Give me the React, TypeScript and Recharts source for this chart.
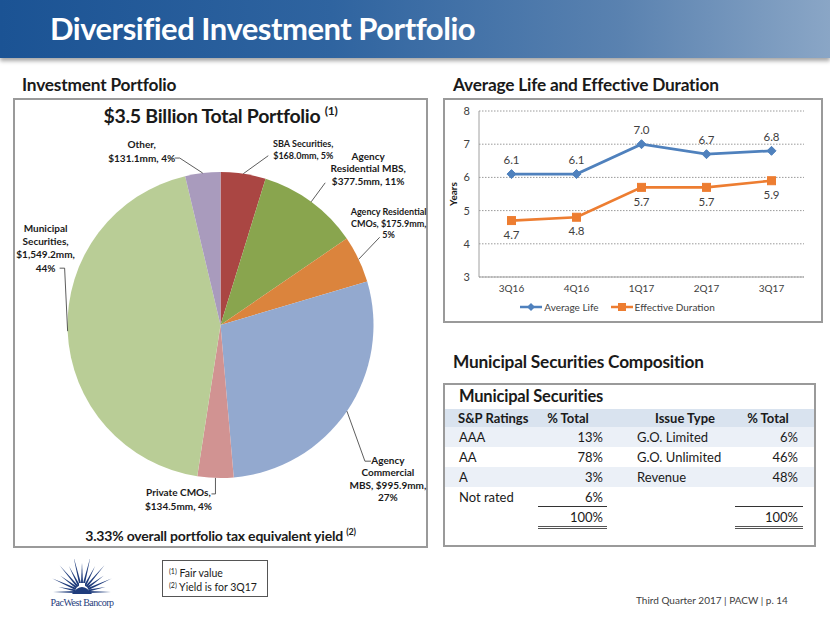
import { PieChart, Pie, Cell, LineChart, Line, XAxis, YAxis, CartesianGrid, LabelList, Legend } from 'recharts'

const FONT = 'Lato, "Open Sans", sans-serif'
const INK = '#1a1a1a'
const GREY_TEXT = '#404040'

// pie: investment portfolio, $mm, clockwise from 12 o'clock
const SEGMENTS = ['SBA Securities', 'Agency Residential MBS', 'Agency Residential CMOs', 'Agency Commercial MBS', 'Private CMOs', 'Municipal Securities', 'Other']
const AMOUNTS = [168.0, 377.5, 175.9, 995.9, 134.5, 1549.2, 131.1]
const SLICE_COLORS = ['#AA4643', '#89A54E', '#DB843D', '#93A9CF', '#D19392', '#B9CD96', '#A99BBD']
const SLICE_LABELS = [
  ['SBA Securities,', '$168.0mm, 5%'],
  ['Agency', 'Residential MBS,', '$377.5mm, 11%'],
  ['Agency Residential', 'CMOs, $175.9mm,', '5%'],
  ['Agency', 'Commercial', 'MBS, $995.9mm,', '27%'],
  ['Private CMOs,', '$134.5mm, 4%'],
  ['Municipal', 'Securities,', '$1,549.2mm,', '44%'],
  ['Other,', '$131.1mm, 4%'],
]

// line chart
const QUARTERS = ['3Q16', '4Q16', '1Q17', '2Q17', '3Q17']
const AVG_LIFE = [6.1, 6.1, 7.0, 6.7, 6.8]
const EFF_DURATION = [4.7, 4.8, 5.7, 5.7, 5.9]
const YEAR_TICKS = [3, 4, 5, 6, 7, 8]

// municipal table
const RATINGS = ['AAA', 'AA', 'A', 'Not rated']
const RATING_PCT = [13, 78, 3, 6]
const ISSUE_TYPES = ['G.O. Limited', 'G.O. Unlimited', 'Revenue']
const ISSUE_PCT = [6, 46, 48]

const BLUE = '#4F81BD'
const ORANGE = '#ED7D31'
const NAVY = '#1F3C7C'

const pieData = SEGMENTS.map((name, i) => ({ name, value: AMOUNTS[i] }))
const lineData = QUARTERS.map((q, i) => ({ q, avg: AVG_LIFE[i], dur: EFF_DURATION[i] }))

const RAD = Math.PI / 180

// leader line / text placement, relative to the point where the slice's mid angle meets the rim
const LABEL_LAYOUT = [
  { elbow: [25, -18], tail: 0, text: [60, -27], fs: 9, lh: 12 },
  { elbow: [14, -19], tail: 0, text: [57, -42], fs: 10, lh: 12.5 },
  { elbow: [21, -22], tail: 0, text: [30, -44], fs: 9, lh: 11.5 },
  { elbow: [18, 50], tail: 6, text: [41, 53], fs: 10, lh: 12.3 },
  { elbow: [0, 16], tail: -4, text: [-37, 18.5], fs: 10, lh: 14 },
  { elbow: [-3, -63], tail: -5, text: [-22, -99.5], fs: 10, lh: 13.3 },
  { elbow: [-23, -15], tail: -5, text: [-61, -25.5], fs: 10, lh: 14 },
]

function SliceLabel(props: any) {
  const { cx, cy, midAngle, outerRadius, index } = props
  const ex = cx + outerRadius * Math.cos(-midAngle * RAD)
  const ey = cy + outerRadius * Math.sin(-midAngle * RAD)
  const l = LABEL_LAYOUT[index]
  const bx = ex + l.elbow[0]
  const by = ey + l.elbow[1]
  const pts = [[ex, ey], [bx, by]]
  if (l.tail) pts.push([bx + l.tail, by])
  const tx = ex + l.text[0]
  return (
    <g>
      <polyline points={pts.map(p => p.join(',')).join(' ')} fill="none" stroke="#333" strokeWidth={0.8} />
      <text x={tx} y={ey + l.text[1]} textAnchor="middle" fontSize={l.fs} fontWeight={700} fill={INK} fontFamily={FONT}>
        {SLICE_LABELS[index].map((s, i) => (
          <tspan key={i} x={tx} dy={i === 0 ? 0 : l.lh}>{s}</tspan>
        ))}
      </text>
    </g>
  )
}

function YearsLabel(props: any) {
  const { viewBox } = props
  const x = viewBox.x + 10
  const y = viewBox.y + viewBox.height / 2
  return (
    <text x={x} y={y} transform={`rotate(-90 ${x} ${y})`} textAnchor="middle" dominantBaseline="central" fontSize={10} fontWeight={700} fill={INK} fontFamily={FONT}>
      Years
    </text>
  )
}

function Diamond(props: any) {
  const { cx, cy } = props
  if (cx == null || cy == null) return null
  const s = 4.5
  return <path d={`M${cx},${cy - s}L${cx + s},${cy}L${cx},${cy + s}L${cx - s},${cy}Z`} fill={BLUE} stroke={BLUE} />
}

function Square(props: any) {
  const { cx, cy } = props
  if (cx == null || cy == null) return null
  const s = 4
  return <rect x={cx - s} y={cy - s} width={s * 2} height={s * 2} fill={ORANGE} stroke={ORANGE} />
}

function LegendRow() {
  const item = (label: string, color: string, marker: 'diamond' | 'square') => (
    <span style={{ display: 'inline-flex', alignItems: 'center', marginRight: 12 }}>
      <svg width={22} height={10}>
        <line x1={0} y1={5} x2={22} y2={5} stroke={color} strokeWidth={2.5} />
        {marker === 'diamond'
          ? <path d="M11,1L15,5L11,9L7,5Z" fill={color} />
          : <rect x={7} y={1} width={8} height={8} fill={color} />}
      </svg>
      <span style={{ marginLeft: 2 }}>{label}</span>
    </span>
  )
  return (
    <div style={{ display: 'flex', justifyContent: 'center', fontSize: 10, color: GREY_TEXT, fontFamily: FONT, paddingTop: 4 }}>
      {item('Average Life', BLUE, 'diamond')}
      {item('Effective Duration', ORANGE, 'square')}
    </div>
  )
}

function Logo() {
  const rays = []
  const n = 15
  const cx = 30
  const cy = 33
  for (let i = 0; i < n; i++) {
    const deg = 180 + (i * 180) / (n - 1)
    const a = deg * RAD
    const up = Math.abs(Math.sin(a))
    const len = (i % 2 === 0 ? 22 : 15) + 9 * up
    const w = 9 * RAD
    const r0 = 7
    const x1 = cx + Math.cos(a - w) * r0
    const y1 = cy + Math.sin(a - w) * r0
    const x2 = cx + Math.cos(a + w) * r0
    const y2 = cy + Math.sin(a + w) * r0
    const tx = cx + Math.cos(a) * (r0 + len)
    const ty = cy + Math.sin(a) * (r0 + len) * 0.95
    rays.push(<path key={i} d={`M${x1},${y1}L${tx},${ty}L${x2},${y2}Z`} fill={NAVY} />)
  }
  return (
    <div style={{ position: 'absolute', left: 50, top: 559, width: 64, textAlign: 'center' }}>
      <svg width={64} height={37} style={{ display: 'block', margin: '0 auto' }} viewBox="-2 0 64 37">
        {rays}
        <path d={`M${cx - 10},${cy + 2} Q${cx},${cy - 12} ${cx + 10},${cy + 2} Z`} fill={NAVY} />
        <rect x={cx - 3} y={cy - 9} width={6} height={3} fill="#fff" />
      </svg>
      <div style={{ fontFamily: '"Liberation Serif", serif', fontSize: 10, color: NAVY, marginTop: 1, whiteSpace: 'nowrap', letterSpacing: -0.5 }}>PacWest Bancorp</div>
    </div>
  )
}

const abs = (left: number, top: number, extra: any = {}) => ({ position: 'absolute' as const, left, top, ...extra })

const HEADING = { fontSize: 17.3, fontWeight: 700, letterSpacing: -0.2, whiteSpace: 'nowrap' }

export default function App() {
  const rowY = [427, 447, 467, 487]
  return (
    <div style={{ position: 'absolute', left: 0, top: 0, width: 830, height: 623, background: '#fff', overflow: 'hidden', fontFamily: FONT, color: INK }}>
      {/* title bar */}
      <div style={abs(0, 0, { width: 830, height: 58, background: 'linear-gradient(90deg, #1B5394 0%, #2F64A0 40%, #5A82B0 75%, #8AA6C6 100%)', boxShadow: '0 3px 4px rgba(0,0,0,0.35)' })} />
      <div style={abs(50, 9, { color: '#fff', fontSize: 31, fontWeight: 700, letterSpacing: -0.5, whiteSpace: 'nowrap' })}>Diversified Investment Portfolio</div>

      {/* section headings */}
      <div style={abs(22, 74, HEADING)}>Investment Portfolio</div>
      <div style={abs(453, 74, HEADING)}>Average Life and Effective Duration</div>
      <div style={abs(453, 351, HEADING)}>Municipal Securities Composition</div>

      {/* pie panel */}
      <div style={abs(13, 98, { width: 411, height: 446, border: '2px solid #9a9a9a' })} />
      <div style={abs(13, 103, { width: 415, textAlign: 'center', fontSize: 19.5, fontWeight: 700, letterSpacing: -0.3, whiteSpace: 'nowrap' })}>
        $3.5 Billion Total Portfolio <sup style={{ fontSize: 12 }}>(1)</sup>
      </div>
      <div style={abs(13, 98)}>
        <PieChart width={415} height={450} margin={{ top: 0, right: 0, bottom: 0, left: 0 }}>
          <Pie data={pieData} dataKey="value" nameKey="name" cx={207.5} cy={227} outerRadius={153} startAngle={90} endAngle={-270}
            stroke="none" label={SliceLabel} labelLine={false} isAnimationActive={false}>
            {pieData.map((d, i) => <Cell key={d.name} fill={SLICE_COLORS[i]} />)}
          </Pie>
        </PieChart>
      </div>
      <div style={abs(13, 526, { width: 415, textAlign: 'center', fontSize: 14, fontWeight: 700, letterSpacing: -0.2, whiteSpace: 'nowrap' })}>
        3.33% overall portfolio tax equivalent yield <sup style={{ fontSize: 9 }}>(2)</sup>
      </div>

      {/* line panel */}
      <div style={abs(443, 98, { width: 376, height: 221, border: '2px solid #9a9a9a' })} />
      <div style={abs(443, 98)}>
        <LineChart width={380} height={225} data={lineData} margin={{ top: 13, right: 19, left: 0, bottom: 0 }}>
          <CartesianGrid vertical={false} stroke="#9a9a9a" strokeDasharray="1.5 1.5" />
          <XAxis dataKey="q" height={20} interval={0} tickLine={false} tickSize={0} tickMargin={8} padding={{ left: 32.5, right: 32.5 }}
            axisLine={{ stroke: '#a0a0a0' }} tick={{ fontSize: 10, fill: GREY_TEXT, fontFamily: FONT }} />
          <YAxis width={36} domain={[3, 8]} ticks={YEAR_TICKS} interval={0} tickLine={false} tickSize={0} tickMargin={9}
            axisLine={{ stroke: '#a0a0a0' }} tick={{ fontSize: 11, fill: GREY_TEXT, fontFamily: FONT }} label={<YearsLabel />} />
          <Legend verticalAlign="bottom" height={26} content={() => <LegendRow />} />
          <Line dataKey="avg" stroke={BLUE} strokeWidth={2.7} dot={<Diamond />} activeDot={false} isAnimationActive={false}>
            <LabelList dataKey="avg" position="top" offset={10} formatter={(v: any) => Number(v).toFixed(1)}
              style={{ fontSize: 11.5, fill: GREY_TEXT, fontFamily: FONT }} />
          </Line>
          <Line dataKey="dur" stroke={ORANGE} strokeWidth={2.7} dot={<Square />} activeDot={false} isAnimationActive={false}>
            <LabelList dataKey="dur" position="bottom" offset={10} formatter={(v: any) => Number(v).toFixed(1)}
              style={{ fontSize: 11.5, fill: GREY_TEXT, fontFamily: FONT }} />
          </Line>
        </LineChart>
      </div>

      {/* municipal table */}
      <div style={abs(443, 383, { width: 369, height: 160, border: '2px solid #9a9a9a' })} />
      <div style={abs(459, 386, { fontSize: 16.5, fontWeight: 700, letterSpacing: -0.2 })}>Municipal Securities</div>
      <div style={abs(445, 409, { width: 369, height: 18, background: '#D9E3EF' })} />
      <div style={abs(445, 427, { width: 369, height: 20, background: '#EBF0F7' })} />
      <div style={abs(445, 467, { width: 369, height: 20, background: '#EBF0F7' })} />
      <div style={abs(458, 410, { fontSize: 13, fontWeight: 700 })}>S&amp;P Ratings</div>
      <div style={abs(538, 410, { width: 60, textAlign: 'center', fontSize: 13, fontWeight: 700 })}>% Total</div>
      <div style={abs(645, 410, { width: 80, textAlign: 'center', fontSize: 13, fontWeight: 700 })}>Issue Type</div>
      <div style={abs(735, 410, { width: 66, textAlign: 'center', fontSize: 13, fontWeight: 700 })}>% Total</div>
      {RATINGS.map((r, i) => (
        <div key={r}>
          <div style={abs(459, rowY[i] + 2, { fontSize: 13 })}>{r}</div>
          <div style={abs(538, rowY[i] + 2, { width: 65, textAlign: 'right', fontSize: 13 })}>{RATING_PCT[i]}%</div>
        </div>
      ))}
      {ISSUE_TYPES.map((t, i) => (
        <div key={t}>
          <div style={abs(637, rowY[i] + 2, { fontSize: 13 })}>{t}</div>
          <div style={abs(735, rowY[i] + 2, { width: 63, textAlign: 'right', fontSize: 13 })}>{ISSUE_PCT[i]}%</div>
        </div>
      ))}
      <div style={abs(538, 506, { width: 69, height: 0, borderTop: '1px solid #333' })} />
      <div style={abs(735, 506, { width: 68, height: 0, borderTop: '1px solid #333' })} />
      <div style={abs(538, 509, { width: 65, textAlign: 'right', fontSize: 13 })}>{RATING_PCT.reduce((a, b) => a + b, 0)}%</div>
      <div style={abs(735, 509, { width: 63, textAlign: 'right', fontSize: 13 })}>{ISSUE_PCT.reduce((a, b) => a + b, 0)}%</div>
      <div style={abs(538, 526, { width: 69, height: 1, borderTop: '1px solid #555', borderBottom: '1px solid #555' })} />
      <div style={abs(735, 526, { width: 68, height: 1, borderTop: '1px solid #555', borderBottom: '1px solid #555' })} />

      {/* footer */}
      <Logo />
      <div style={abs(162, 560, { width: 106, height: 37, border: '1px solid #555', fontSize: 10.5, lineHeight: '12px', padding: '4px 0 0 6px', boxSizing: 'border-box', whiteSpace: 'nowrap' })}>
        <div><span style={{ fontSize: 7, verticalAlign: 3 }}>(1)</span> Fair value</div>
        <div><span style={{ fontSize: 7, verticalAlign: 3 }}>(2)</span> Yield is for 3Q17</div>
      </div>
      <div style={abs(636, 594, { fontSize: 10, color: GREY_TEXT, whiteSpace: 'nowrap' })}>Third Quarter 2017 | PACW | p. 14</div>
    </div>
  )
}
